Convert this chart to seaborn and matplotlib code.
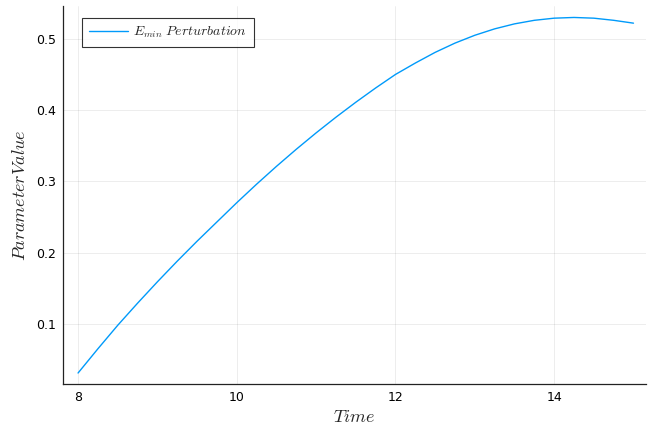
import matplotlib
matplotlib.use("Agg")
import matplotlib.pyplot as plt
import seaborn as sns
import pandas as pd

time = [8.0, 8.25, 8.5, 8.75, 9.0, 9.25, 9.5, 9.75, 10.0, 10.25, 10.5, 10.75,
        11.0, 11.25, 11.5, 11.75, 12.0, 12.25, 12.5, 12.75, 13.0, 13.25, 13.5,
        13.75, 14.0, 14.25, 14.5, 14.75, 15.0]
value = [0.031, 0.065, 0.098, 0.129, 0.159, 0.188, 0.216, 0.243, 0.270, 0.296,
         0.321, 0.345, 0.368, 0.390, 0.411, 0.431, 0.450, 0.466, 0.481, 0.494,
         0.505, 0.514, 0.521, 0.526, 0.529, 0.530, 0.529, 0.526, 0.522]
xticks = [8, 10, 12, 14]
yticks = [0.1, 0.2, 0.3, 0.4, 0.5]
series_label = r"$E_{min}\ Perturbation$"

sns.set_style("white")
plt.rcParams["font.family"] = ["DejaVu Sans"]
plt.rcParams["mathtext.fontset"] = "cm"

df = pd.DataFrame({"Time": time, "Value": value, "Series": series_label})

fig = plt.figure(figsize=(6.48, 4.33), dpi=100)
ax = fig.add_axes([0.0972, 0.1132, 0.9, 0.8728])

sns.lineplot(data=df, x="Time", y="Value", hue="Series", palette=["#009AFA"],
             linewidth=1.0, ax=ax)

ax.set_xlim(7.81, 15.16)
ax.set_ylim(0.0156, 0.546)
ax.set_xticks(xticks)
ax.set_yticks(yticks)
ax.set_xticklabels([str(t) for t in xticks])
ax.set_yticklabels([f"{t:.1f}" for t in yticks])
ax.tick_params(direction="in", length=4, width=0.8, colors="black", labelsize=9,
               labelcolor="black", pad=5)
ax.grid(True, color="black", alpha=0.1, linewidth=0.5)

for s in ["top", "right"]:
    ax.spines[s].set_visible(False)
for s in ["left", "bottom"]:
    ax.spines[s].set_color("#222222")
    ax.spines[s].set_linewidth(0.9)

ax.set_xlabel(r"$Time$", fontsize=13, labelpad=3)
ax.set_ylabel(r"$Parameter Value$", fontsize=13, labelpad=5)

leg = ax.legend(loc="upper left", bbox_to_anchor=(0.0326, 0.968), borderaxespad=0,
                fontsize=10, frameon=True, fancybox=False,
                edgecolor="black", handlelength=2.8, handletextpad=0.4,
                borderpad=0.5)
leg.get_frame().set_linewidth(0.8)
leg.set_title(None)

fig.savefig("out.png", dpi=100)
